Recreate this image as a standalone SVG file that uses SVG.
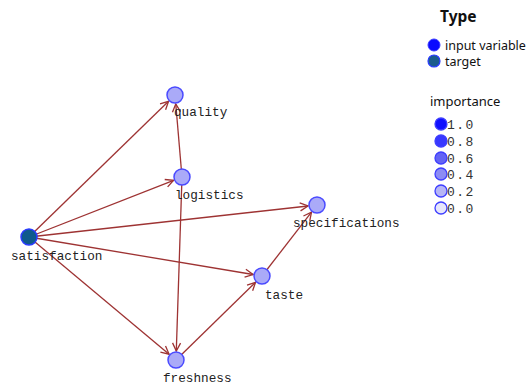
<svg xmlns="http://www.w3.org/2000/svg" width="526" height="387" viewBox="0 0 526 387">
  <style>
    .edge { stroke: #9e3333; stroke-width: 1.3; fill: none; marker-end: url(#arrow); }
    .node { fill: #aaaaf8; stroke: #4a4aff; stroke-width: 1.5; }
    .target { fill: #0f5a8c; stroke: #2a3cff; stroke-width: 1.5; }
    .label { font-family: "Liberation Mono", "DejaVu Sans Mono", monospace; font-size: 12.7px; fill: #222; }
    .legend-title { font-family: "Noto Sans", "Open Sans", sans-serif; fill: #111; }
    .legend-text { font-family: "Noto Sans", "Open Sans", sans-serif; font-size: 12.5px; fill: #111; }
    .imp-text { font-family: "Liberation Mono", "DejaVu Sans Mono", monospace; font-size: 13px; fill: #333; letter-spacing: 1.5px; }
    .imp { stroke: #3d3dff; stroke-width: 1.3; }
  </style>
  <defs>
    <marker id="arrow" markerUnits="userSpaceOnUse" markerWidth="12" markerHeight="12" refX="8" refY="4" orient="auto" overflow="visible">
      <path d="M0,0 L8,4 L0,8" fill="none" stroke="#9e3333" stroke-width="1.3"/>
    </marker>
  </defs>
  <rect width="526" height="387" fill="#ffffff"/>

  <!-- connectors -->
  <g id="edges">
    <line class="edge" x1="29" y1="237" x2="168.55" y2="101.27"/>
    <line class="edge" x1="29" y1="237" x2="173.62" y2="180.29"/>
    <line class="edge" x1="29" y1="237" x2="308.06" y2="205.99"/>
    <line class="edge" x1="29" y1="237" x2="253.12" y2="274.51"/>
    <line class="edge" x1="29" y1="237" x2="169.10" y2="354.22"/>
    <line class="edge" x1="182" y1="177" x2="175.77" y2="103.97"/>
    <line class="edge" x1="182" y1="177" x2="176.30" y2="351.0"/>
    <line class="edge" x1="176" y1="360" x2="255.56" y2="282.29"/>
    <line class="edge" x1="262" y1="276" x2="311.49" y2="212.12"/>
  </g>

  <!-- nodes -->
  <g id="satisfaction">
    <circle class="target" cx="29" cy="237" r="8"/>
    <text class="label" x="11" y="260">satisfaction</text>
  </g>
  <g id="quality">
    <circle class="node" cx="175" cy="95" r="8"/>
    <text class="label" x="174" y="116">quality</text>
  </g>
  <g id="logistics">
    <circle class="node" cx="182" cy="177" r="8"/>
    <text class="label" x="175" y="199">logistics</text>
  </g>
  <g id="specifications">
    <circle class="node" cx="317" cy="205" r="8"/>
    <text class="label" x="293" y="227">specifications</text>
  </g>
  <g id="taste">
    <circle class="node" cx="262" cy="276" r="8"/>
    <text class="label" x="265" y="299">taste</text>
  </g>
  <g id="freshness">
    <circle class="node" cx="176" cy="360" r="8"/>
    <text class="label" x="163" y="382">freshness</text>
  </g>

  <!-- legend: type -->
  <g id="legend-type">
    <text class="legend-title" x="440" y="22" font-size="15.5" font-weight="bold">Type</text>
    <circle cx="434" cy="45" r="6" fill="#0a0aff" stroke="#3a3aff" stroke-width="1"/>
    <text class="legend-text" x="445" y="49.5">input variable</text>
    <circle cx="434" cy="61" r="6" fill="#1a5c8c" stroke="#2a3cff" stroke-width="1.2"/>
    <text class="legend-text" x="445" y="65.5">target</text>
  </g>

  <!-- legend: importance -->
  <g id="legend-importance">
    <text class="legend-title" x="430" y="106" font-size="13">importance</text>
    <circle class="imp" cx="441" cy="124" r="6" fill="#1010ff"/>
    <text class="imp-text" x="447" y="128.5">1.0</text>
    <circle class="imp" cx="441" cy="141" r="6" fill="#3838ff"/>
    <text class="imp-text" x="447" y="145.5">0.8</text>
    <circle class="imp" cx="441" cy="158" r="6" fill="#6464f4"/>
    <text class="imp-text" x="447" y="162.5">0.6</text>
    <circle class="imp" cx="441" cy="174" r="6" fill="#8c8cf4"/>
    <text class="imp-text" x="447" y="178.5">0.4</text>
    <circle class="imp" cx="441" cy="191" r="6" fill="#b6b6f6"/>
    <text class="imp-text" x="447" y="195.5">0.2</text>
    <circle class="imp" cx="441" cy="208" r="6" fill="#e6e6fb"/>
    <text class="imp-text" x="447" y="212.5">0.0</text>
  </g>
</svg>
